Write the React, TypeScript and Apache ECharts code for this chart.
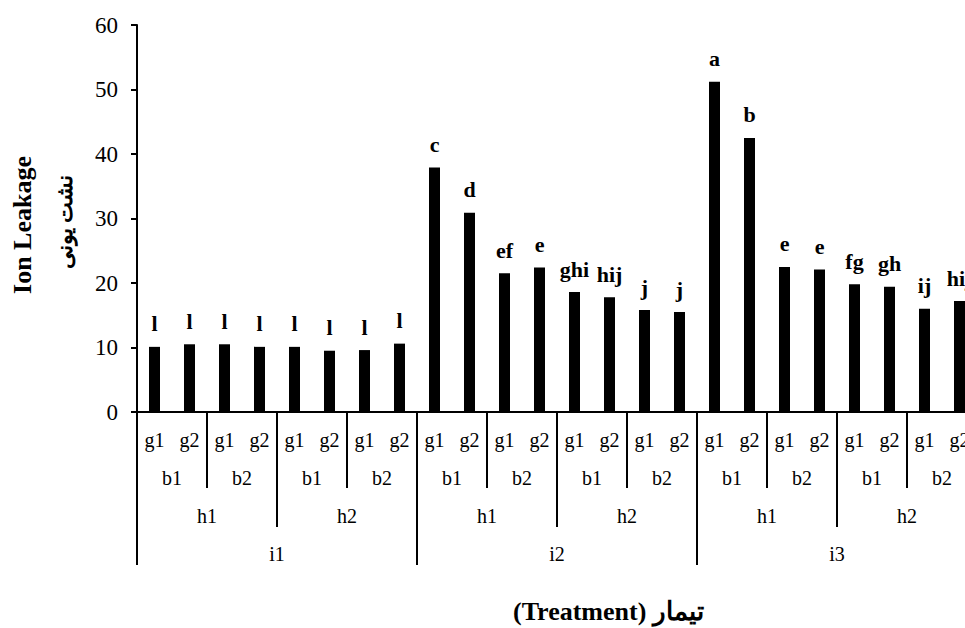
import React, { useEffect, useRef } from "react";
import * as echarts from "echarts";

// ---- data ----
const gLevel = ["g1","g2","g1","g2","g1","g2","g1","g2","g1","g2","g1","g2","g1","g2","g1","g2","g1","g2","g1","g2","g1","g2","g1","g2"];
const bLevel = ["b1","b2","b1","b2","b1","b2","b1","b2","b1","b2","b1","b2"];
const hLevel = ["h1","h2","h1","h2","h1","h2"];
const iLevel = ["i1","i2","i3"];
const ionLeakage = [10.1, 10.5, 10.5, 10.1, 10.1, 9.5, 9.6, 10.6, 37.9, 30.9, 21.5, 22.4, 18.6, 17.8, 15.8, 15.5, 51.2, 42.5, 22.5, 22.1, 19.8, 19.4, 16.0, 17.2];
const groupLetters = ["l","l","l","l","l","l","l","l","c","d","ef","e","ghi","hij","j","j","a","b","e","e","fg","gh","ij","hij"];
const yTitleEn = "Ion Leakage";
const yTitleFa = "نشت یونی";
const xTitle = "(Treatment) تیمار";

const SERIF = "Liberation Serif";
const BLACK = "#000";

function levelAxis(data: string[], margin: number, tickLen: number, showLine: boolean) {
  return {
    type: "category",
    gridIndex: 0,
    position: "bottom",
    offset: 0,
    data,
    boundaryGap: true,
    axisLine: { show: showLine, lineStyle: { color: BLACK, width: 2 } },
    axisTick: {
      show: tickLen > 0,
      interval: 0,
      length: tickLen,
      alignWithLabel: false,
      lineStyle: { color: BLACK, width: 2 },
    },
    axisLabel: {
      interval: 0,
      margin,
      color: BLACK,
      fontFamily: SERIF,
      fontSize: 20,
    },
    splitLine: { show: false },
  };
}

export default function App() {
  const ref = useRef<HTMLDivElement>(null);
  useEffect(() => {
    if (!ref.current) return;
    const chart = echarts.init(ref.current, null, { renderer: "svg" });
    chart.setOption({
      animation: false,
      backgroundColor: "#fff",
      textStyle: { fontFamily: SERIF },
      grid: { left: 137, right: 23, top: 25, bottom: 216, containLabel: false, outerBoundsMode: "none" },
      xAxis: [
        levelAxis(gLevel, 18, 0, true),
        levelAxis(bLevel, 56, 76, false),
        levelAxis(hLevel, 94, 115, false),
        levelAxis(iLevel, 132, 153, false),
      ],
      yAxis: {
        type: "value",
        min: 0,
        max: 60,
        interval: 10,
        axisLine: { show: true, lineStyle: { color: BLACK, width: 2 } },
        axisTick: { show: true, length: 6, lineStyle: { color: BLACK, width: 2 } },
        axisLabel: { margin: 19, color: BLACK, fontFamily: SERIF, fontSize: 23 },
        splitLine: { show: false },
      },
      series: [
        {
          type: "bar",
          xAxisIndex: 0,
          data: ionLeakage,
          barWidth: 11,
          itemStyle: { color: BLACK },
          label: {
            show: true,
            position: "top",
            distance: 12,
            color: BLACK,
            fontFamily: SERIF,
            fontWeight: "bold",
            fontSize: 22,
            formatter: (p: any) => groupLetters[p.dataIndex],
          },
        },
      ],
      graphic: [
        {
          type: "text",
          x: 22,
          y: 225,
          rotation: Math.PI / 2,
          style: {
            text: yTitleEn,
            fill: BLACK,
            fontFamily: SERIF,
            fontWeight: "bold",
            fontSize: 26,
            align: "center",
            verticalAlign: "middle",
          },
        },
        {
          type: "text",
          x: 64,
          y: 222,
          rotation: Math.PI / 2,
          style: {
            text: yTitleFa,
            fill: BLACK,
            fontFamily: SERIF,
            fontWeight: "bold",
            fontSize: 22,
            align: "center",
            verticalAlign: "middle",
          },
        },
        {
          type: "text",
          x: 513,
          y: 611,
          style: {
            text: xTitle,
            fill: BLACK,
            fontFamily: SERIF,
            fontWeight: "bold",
            fontSize: 26,
            align: "left",
            verticalAlign: "middle",
          },
        },
      ],
    });
    return () => chart.dispose();
  }, []);
  return (
    <div style={{ position: "fixed", left: 0, top: 0, width: 965, height: 628, overflow: "hidden", background: "#fff" }}>
      <div ref={ref} style={{ width: 1000, height: 628 }} />
    </div>
  );
}
